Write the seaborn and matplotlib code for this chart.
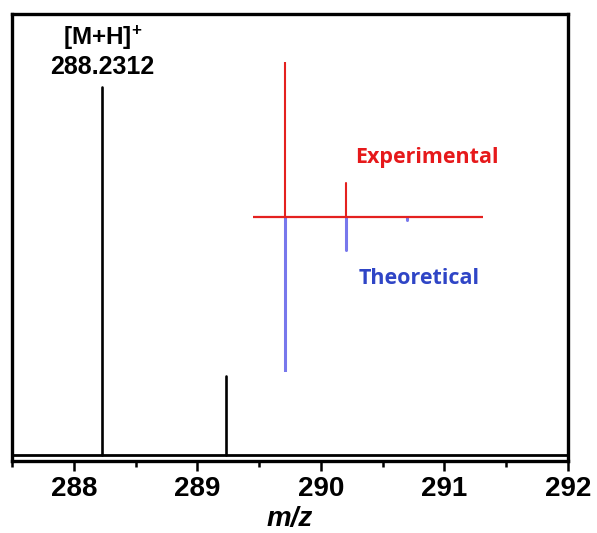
import numpy as np
import pandas as pd
import matplotlib
matplotlib.use("Agg")
import matplotlib.pyplot as plt
from matplotlib.ticker import MultipleLocator, FixedLocator
import seaborn as sns

# Measured spectrum (centroid sticks)
exp_mz = [288.2312, 289.2346]
exp_int = [100.0, 21.5]

# Isotope pattern comparison (inset)
iso_exp_mz = [288.2312, 289.2346]
iso_exp_int = [100.0, 22.0]
iso_theo_mz = [288.2312, 289.2346, 290.2379]
iso_theo_int = [100.0, 21.5, 2.0]

x_ticks = [288, 289, 290, 291, 292]
x_range = (287.5, 292.0)
inset_range = (287.717, 291.47)


def sticks(mz, inten, sign=1.0):
    rows = []
    for i, (m, h) in enumerate(zip(mz, inten)):
        rows.append({"mz": m, "I": 0.0, "peak": i})
        rows.append({"mz": m, "I": sign * h, "peak": i})
    return pd.DataFrame(rows)


sns.set_theme(style="white")
plt.rcParams["font.family"] = ["Liberation Sans", "DejaVu Sans"]
plt.rcParams["text.color"] = "black"
plt.rcParams["axes.labelcolor"] = "black"
plt.rcParams["xtick.color"] = "black"
plt.rcParams["mathtext.fontset"] = "custom"
plt.rcParams["mathtext.rm"] = "Liberation Sans"
plt.rcParams["mathtext.bf"] = "Liberation Sans:bold"
plt.rcParams["mathtext.it"] = "Liberation Sans:italic:bold"
plt.rcParams["mathtext.default"] = "bf"

W, H = 597, 533
fig = plt.figure(figsize=(W / 100, H / 100), dpi=100)
ax = fig.add_axes([12 / W, 1 - 461 / H, 556 / W, 447 / H])

sns.lineplot(data=sticks(exp_mz, exp_int), x="mz", y="I", units="peak",
             estimator=None, sort=False, color="black", linewidth=1.9, ax=ax)
ax.axhline(0, color="black", linewidth=2.0)

ax.set_xlim(*x_range)
ax.set_ylim(-1.63, 119.8)
ax.xaxis.set_major_locator(FixedLocator(x_ticks))
ax.xaxis.set_minor_locator(MultipleLocator(0.5))
ax.set_xticklabels([str(t) for t in x_ticks])
ax.set_yticks([])
ax.set_ylabel("")
ax.tick_params(axis="x", which="major", direction="out", length=7, width=1.8,
               color="black", labelcolor="black", pad=4, labelsize=20,
               bottom=True)
ax.tick_params(axis="x", which="minor", direction="out", length=4, width=1.8,
               color="black", bottom=True)
for lab in ax.get_xticklabels():
    lab.set_fontweight("bold")
    lab.set_family(["Liberation Sans", "DejaVu Sans"])
for s in ax.spines.values():
    s.set_color("black")
    s.set_linewidth(2.4)
ax.set_xlabel("m/z", fontsize=20, fontweight="bold", fontstyle="italic",
              color="black", labelpad=2.5,
              family=["Liberation Sans", "DejaVu Sans"])

# Peak annotation
ax.annotate(f"{exp_mz[0]:.4f}", xy=(exp_mz[0], exp_int[0]),
            xytext=(0, 6), textcoords="offset points", ha="center",
            va="bottom", fontsize=18, fontweight="bold", color="black")
ax.annotate("[M+H]$^{+}$", xy=(exp_mz[0], exp_int[0]),
            xytext=(0, 25), textcoords="offset points", ha="center",
            va="bottom", fontsize=17.5, fontweight="bold", color="black")

# Inset: experimental (up) vs theoretical (down) isotope pattern
red = "#e4211f"
blue = "#7878ec"
ins = fig.add_axes([253 / W, 1 - 372 / H, 230 / W, 310 / H])
ins.patch.set_alpha(0)
sns.lineplot(data=sticks(iso_theo_mz, iso_theo_int, -1.0), x="mz", y="I",
             units="peak", estimator=None, sort=False, color=blue,
             linewidth=2.2, ax=ins)
sns.lineplot(data=sticks(iso_exp_mz, iso_exp_int), x="mz", y="I",
             units="peak", estimator=None, sort=False, color=red,
             linewidth=1.5, ax=ins)
ins.axhline(0, color=red, linewidth=1.6)
ins.set_xlim(*inset_range)
ins.set_ylim(-100, 100)
ins.axis("off")

fig.text(427 / W, 1 - 158 / H, "Experimental", color="#e6191b",
         fontsize=15.5, fontweight="bold", family=["Open Sans", "DejaVu Sans"],
         ha="center", va="center")
fig.text(419 / W, 1 - 278 / H, "Theoretical", color="#2f45c6",
         fontsize=15.5, fontweight="bold", family=["Open Sans", "DejaVu Sans"],
         ha="center", va="center")

fig.savefig("out.png", dpi=100)
